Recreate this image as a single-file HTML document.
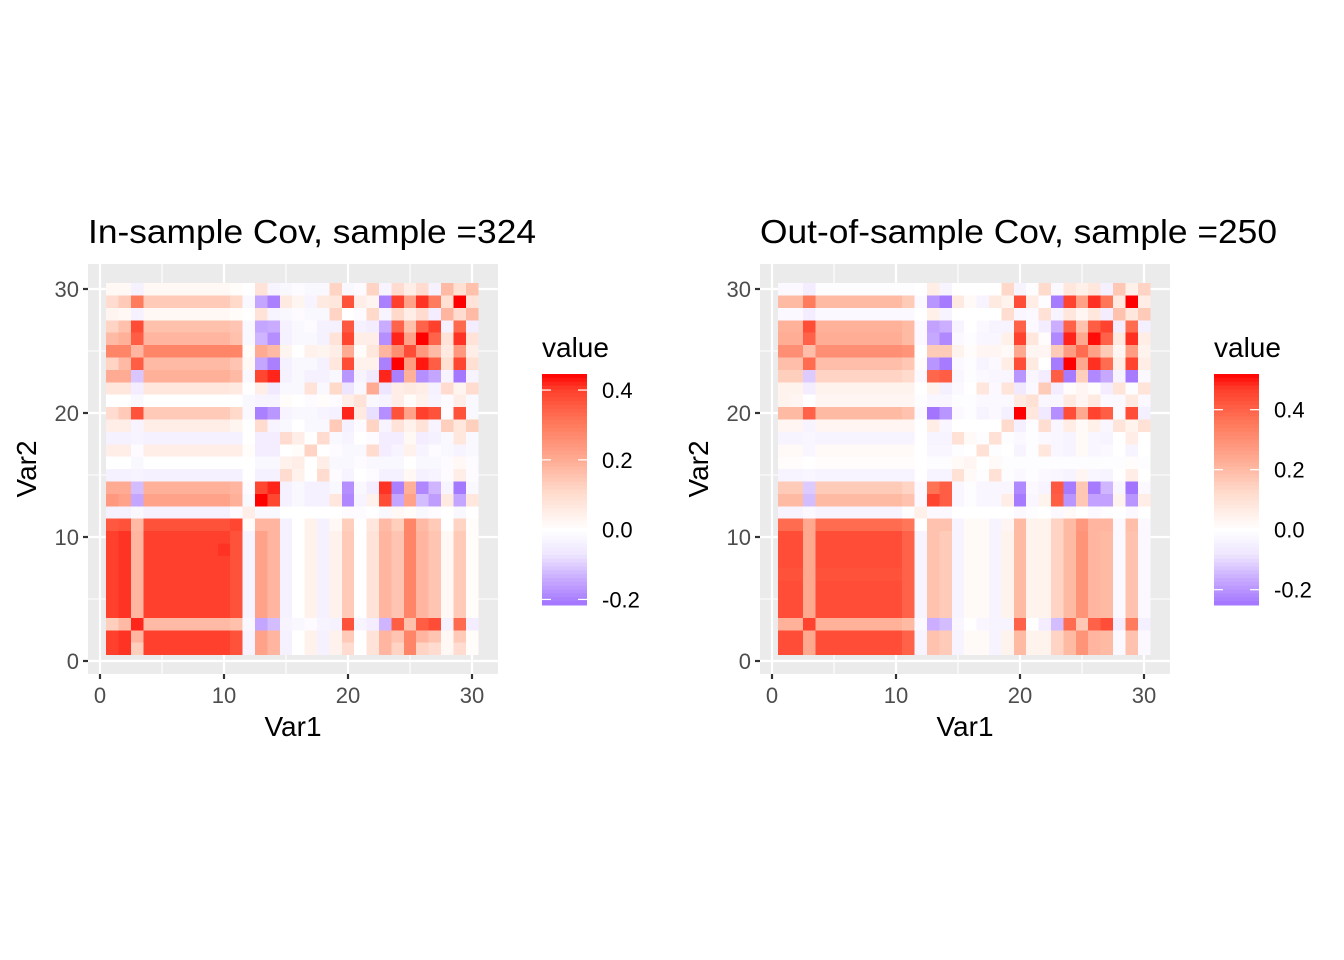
<!DOCTYPE html>
<html><head><meta charset="utf-8"><style>
html,body{margin:0;padding:0;background:#fff;}
svg{display:block;font-family:"Liberation Sans",Arial,sans-serif;}
</style></head><body>
<svg id="chart" width="1344" height="960" viewBox="0 0 1344 960" xmlns="http://www.w3.org/2000/svg"></svg>
<script>
// ---- data ----
const xTicks = [0, 10, 20, 30];
const yTicks = [0, 10, 20, 30];
const leftTitle = "In-sample Cov, sample =324";
const rightTitle = "Out-of-sample Cov, sample =250";
const leftLegendTicks = [-0.2, 0.0, 0.2, 0.4];
const rightLegendTicks = [-0.2, 0.0, 0.2, 0.4];
const leftRange = [-0.216, 0.446];
const rightRange = [-0.251, 0.519];
// rows 1..30 (bottom to top), columns 1..30
const leftMatrix = [
[.4,.41,.13,.4,.4,.4,.4,.4,.4,.4,.37,-.03,.22,.18,-.04,0,.04,-.04,.04,.1,0,.08,.18,.12,.28,.12,.1,.02,.1,.01],
[.4,.41,.18,.4,.4,.4,.4,.4,.4,.4,.37,-.03,.22,.18,-.04,0,.04,-.04,.04,.14,0,.08,.18,.15,.28,.18,.15,.02,.14,.01],
[.13,.17,.42,.17,.17,.17,.17,.17,.17,.17,.16,-.02,-.15,-.12,-.03,-.02,-.01,-.03,-.04,.37,-.03,-.05,-.13,.35,.16,.35,.38,-.04,.33,-.05],
[.4,.41,.18,.4,.4,.4,.4,.4,.4,.4,.37,-.03,.22,.18,-.04,0,.04,-.04,.04,.14,0,.08,.18,.15,.28,.18,.15,.02,.14,.01],
[.4,.41,.18,.4,.4,.4,.4,.4,.4,.4,.37,-.03,.22,.18,-.04,0,.04,-.04,.04,.14,0,.08,.18,.15,.28,.18,.15,.02,.14,.01],
[.4,.41,.18,.4,.4,.4,.4,.4,.4,.4,.37,-.03,.22,.18,-.04,0,.04,-.04,.04,.14,0,.08,.18,.15,.28,.18,.15,.02,.14,.01],
[.4,.41,.18,.4,.4,.4,.4,.4,.4,.4,.37,-.03,.22,.18,-.04,0,.04,-.04,.04,.14,0,.08,.18,.15,.28,.18,.15,.02,.14,.01],
[.4,.41,.18,.4,.4,.4,.4,.4,.4,.4,.37,-.03,.22,.18,-.04,0,.04,-.04,.04,.14,0,.08,.18,.15,.28,.18,.15,.02,.14,.01],
[.4,.41,.18,.4,.4,.4,.4,.4,.4,.41,.37,-.03,.22,.18,-.04,0,.04,-.04,.04,.14,0,.08,.18,.15,.28,.18,.15,.02,.14,.01],
[.4,.41,.18,.4,.4,.4,.4,.4,.4,.4,.37,-.03,.22,.18,-.04,0,.04,-.04,.04,.14,0,.08,.18,.15,.28,.18,.15,.02,.14,.01],
[.36,.37,.17,.37,.37,.37,.37,.37,.37,.37,.39,.01,.18,.18,-.04,0,.04,-.04,.02,.13,0,.07,.17,.13,.28,.17,.14,0,.12,.01],
[-.04,-.04,-.02,-.04,-.04,-.04,-.04,-.04,-.04,-.04,-.01,.05,-.02,-.02,0,0,0,0,0,-.01,-.01,0,-.02,.02,.01,-.02,-.01,0,-.02,0],
[.24,.22,-.15,.22,.22,.22,.22,.22,.22,.22,.19,-.02,.446,.39,-.04,-.02,-.04,-.04,.07,-.19,-.03,.04,.38,-.15,.22,-.12,-.16,.06,-.15,.07],
[.2,.2,-.12,.19,.19,.19,.19,.19,.19,.19,.18,-.01,.39,.42,-.04,-.02,-.04,-.04,-.02,-.18,-.02,-.05,.41,-.2,.19,-.19,-.13,-.03,-.21,-.02],
[-.04,-.04,-.03,-.04,-.04,-.04,-.04,-.04,-.04,-.04,-.04,0,-.04,-.04,.1,.04,0,.1,-.01,-.03,0,-.01,-.04,-.04,.02,-.04,-.03,-.01,.05,-.01],
[0,0,-.02,0,0,0,0,0,0,0,0,0,-.02,-.02,.04,.05,0,.05,-.02,-.02,-.01,-.02,-.02,-.02,0,-.02,-.02,-.01,.02,-.01],
[.05,.05,-.01,.05,.05,.05,.05,.05,.05,.05,.05,.01,-.05,-.05,0,.01,.12,0,-.01,-.02,-.02,.1,-.05,-.03,.04,-.03,-.01,-.02,-.03,-.02],
[-.04,-.04,-.03,-.04,-.04,-.04,-.04,-.04,-.04,-.04,-.04,0,-.05,-.05,.1,.05,0,.1,-.02,-.03,0,-.01,-.05,-.05,.02,-.05,-.04,-.02,.07,-.02],
[.05,.05,-.03,.05,.05,.05,.05,.05,.05,.05,.03,0,.1,-.03,-.02,0,-.02,-.02,.14,-.04,-.01,.12,-.03,.08,.04,.08,-.03,.13,.07,.13],
[.1,.14,.37,.14,.14,.14,.14,.14,.14,.14,.11,-.02,-.2,-.17,-.03,-.02,-.02,-.03,-.04,.42,.06,-.08,-.18,.37,.22,.4,.37,-.01,.37,-.02],
[0,0,-.02,0,0,0,0,0,0,0,0,-.02,-.03,-.03,.01,0,-.01,.01,-.01,.05,.08,-.02,-.03,.05,.01,.04,-.03,-.01,.05,-.02],
[.07,.07,-.05,.07,.07,.07,.07,.07,.07,.07,.06,0,.05,-.06,-.02,-.02,.08,-.02,.11,-.07,-.02,.2,-.07,.05,.06,.05,-.04,.1,.03,.1],
[.2,.2,-.11,.19,.19,.19,.19,.19,.19,.19,.17,-.02,.39,.42,-.04,-.02,-.04,-.04,-.02,-.17,-.03,-.06,.42,-.2,.19,-.18,-.15,-.03,-.21,-.03],
[.12,.17,.35,.17,.17,.17,.17,.17,.17,.17,.15,.02,-.15,-.2,-.04,-.02,-.02,-.04,.07,.38,.04,.04,-.2,.446,.23,.43,.35,.09,.39,.09],
[.28,.28,.18,.28,.28,.28,.28,.28,.28,.28,.28,.01,.2,.17,.03,0,.04,.03,.05,.2,.01,.07,.18,.26,.38,.24,.17,.06,.24,.05],
[.17,.19,.35,.18,.18,.18,.18,.18,.18,.18,.16,-.02,-.13,-.18,-.04,-.02,-.02,-.04,.08,.39,.05,.05,-.18,.42,.22,.446,.34,.08,.41,.08],
[.12,.16,.38,.16,.16,.16,.16,.16,.16,.16,.15,-.02,-.15,-.14,-.04,-.02,-.01,-.04,-.04,.36,-.04,-.05,-.14,.34,.16,.34,.4,-.04,.33,-.05],
[.03,.02,-.04,.02,.02,.02,.02,.02,.02,.02,.01,0,.08,-.03,-.02,-.01,-.02,-.02,.12,0,-.01,.11,-.03,.11,.05,.1,-.05,.18,.1,.17],
[.1,.14,.3,.14,.14,.14,.14,.14,.14,.14,.11,-.02,-.15,-.2,.06,.03,-.03,.06,.07,.37,.05,.03,-.2,.4,.22,.41,.3,.09,.446,.08],
[.02,.02,-.04,.02,.02,.02,.02,.02,.02,.02,.01,0,.08,-.03,-.02,-.01,-.02,-.02,.12,-.02,-.01,.12,-.03,.1,.05,.1,-.04,.17,.09,.16]
];
const rightMatrix = [
[.44,.44,.24,.44,.44,.44,.44,.44,.44,.44,.4,-.04,.18,.16,-.04,.02,.02,-.04,.04,.2,.04,.04,.14,.2,.29,.21,.2,-.02,.18,-.02],
[.44,.44,.24,.44,.44,.44,.44,.44,.44,.44,.4,-.04,.18,.16,-.04,.02,.02,-.04,.04,.2,.04,.04,.14,.2,.29,.21,.2,-.02,.18,-.02],
[.22,.22,.46,.22,.22,.22,.22,.22,.22,.22,.2,-.02,-.16,-.14,-.03,0,-.03,-.04,-.04,.4,0,-.06,-.14,.38,.17,.4,.44,-.06,.35,-.05],
[.44,.44,.24,.44,.44,.44,.44,.44,.44,.44,.4,-.04,.18,.16,-.04,.02,.02,-.04,.04,.2,.04,.04,.14,.2,.29,.21,.2,-.02,.18,-.02],
[.44,.44,.24,.44,.44,.44,.44,.44,.44,.44,.4,-.04,.18,.16,-.04,.02,.02,-.04,.04,.2,.04,.04,.14,.2,.29,.21,.2,-.02,.18,-.02],
[.44,.44,.24,.44,.44,.44,.44,.44,.44,.44,.4,-.04,.18,.16,-.04,.02,.02,-.04,.04,.2,.04,.04,.14,.2,.29,.21,.2,-.02,.18,-.02],
[.43,.43,.24,.43,.43,.43,.43,.43,.43,.43,.4,-.04,.18,.16,-.04,.02,.02,-.04,.04,.2,.04,.04,.14,.2,.29,.21,.2,-.02,.18,-.02],
[.44,.44,.24,.44,.44,.44,.44,.44,.44,.44,.4,-.04,.18,.16,-.04,.02,.02,-.04,.04,.2,.04,.04,.14,.2,.29,.21,.2,-.02,.18,-.02],
[.44,.44,.24,.44,.44,.44,.44,.44,.44,.44,.4,-.04,.18,.16,-.04,.02,.02,-.04,.04,.2,.04,.04,.14,.2,.29,.21,.2,-.02,.18,-.02],
[.44,.44,.24,.44,.44,.44,.44,.44,.44,.44,.4,-.04,.18,.16,-.04,.02,.02,-.04,.04,.2,.04,.04,.14,.2,.29,.21,.2,-.02,.18,-.02],
[.38,.38,.24,.38,.38,.38,.38,.38,.38,.38,.36,0,.18,.18,-.04,.02,.02,-.04,.03,.2,.04,.04,.14,.2,.28,.21,.21,-.02,.19,-.02],
[-.04,-.04,-.02,-.04,-.04,-.04,-.04,-.04,-.04,-.04,-.01,.05,-.02,-.02,0,0,0,0,0,-.02,-.01,0,-.02,.02,0,-.02,-.01,0,-.02,0],
[.2,.2,-.14,.2,.2,.2,.2,.2,.2,.2,.18,-.02,.46,.41,-.03,-.01,-.03,-.03,.06,-.24,-.03,.04,.41,-.2,.17,-.18,-.18,.04,-.2,.06],
[.16,.16,-.12,.16,.16,.16,.16,.16,.16,.16,.14,-.02,.37,.41,-.03,-.01,-.03,-.03,-.03,-.22,-.02,-.04,.42,-.24,.17,-.24,-.15,-.03,-.25,-.02],
[-.04,-.04,-.03,-.04,-.04,-.04,-.04,-.04,-.04,-.04,-.04,0,-.04,-.04,.1,.02,-.01,.1,-.01,-.02,-.01,-.02,-.03,-.04,.03,-.03,-.04,0,.06,0],
[.01,.01,0,.01,.01,.01,.01,.01,.01,.01,.01,0,-.01,-.01,.02,.03,0,.02,-.01,-.01,-.01,-.01,-.01,-.01,-.01,-.01,-.01,-.01,.01,-.01],
[.02,.02,-.03,.02,.02,.02,.02,.02,.02,.02,.02,0,-.03,-.03,-.01,0,.1,-.01,0,-.04,-.01,.08,-.03,-.04,.02,-.03,-.02,0,-.04,0],
[-.04,-.04,-.03,-.04,-.04,-.04,-.04,-.04,-.04,-.04,-.04,0,-.04,-.04,.1,.02,-.01,.1,-.01,-.02,-.01,-.02,-.03,-.04,.02,-.03,-.04,0,.06,0],
[.03,.03,-.04,.03,.03,.03,.03,.03,.03,.03,.03,0,.06,-.03,0,0,0,0,.12,-.05,-.01,.11,-.03,.06,.02,.05,-.03,.09,.04,.1],
[.2,.2,.4,.2,.2,.2,.2,.2,.2,.2,.18,-.02,-.25,-.2,-.02,-.01,-.04,-.02,-.05,.519,.08,-.07,-.21,.44,.24,.46,.41,-.02,.44,-.05],
[.04,.03,0,.03,.03,.03,.03,.03,.03,.03,.03,-.01,-.03,-.03,-.01,-.01,-.02,-.02,-.02,.07,.1,-.03,-.03,.07,.03,.07,-.02,-.02,.07,-.02],
[.04,.04,-.06,.04,.04,.04,.04,.04,.04,.04,.04,0,.04,-.05,-.02,0,.08,-.02,.09,-.07,-.02,.16,-.06,.01,.03,.01,-.06,.09,-.01,.09],
[.15,.15,-.12,.14,.14,.14,.14,.14,.14,.14,.12,-.02,.39,.41,-.03,-.01,-.02,-.03,-.03,-.2,-.03,-.06,.41,-.24,.15,-.22,-.17,-.04,-.24,-.02],
[.19,.19,.38,.19,.19,.19,.19,.19,.19,.19,.17,.01,-.2,-.24,-.02,-.01,-.04,-.02,.06,.44,.07,0,-.24,.519,.24,.48,.38,.06,.46,.06],
[.3,.3,.19,.3,.3,.3,.3,.3,.3,.3,.29,0,.16,.16,.04,.01,.03,.03,.02,.24,.03,.03,.16,.27,.38,.26,.16,.03,.27,.04],
[.23,.23,.4,.23,.23,.23,.23,.23,.23,.23,.2,-.02,-.17,-.22,-.02,-.01,-.03,-.03,.05,.46,.08,.01,-.22,.49,.24,.51,.4,.07,.48,.06],
[.22,.22,.44,.22,.22,.22,.22,.22,.22,.22,.2,-.02,-.18,-.16,-.04,0,-.02,-.04,-.04,.4,-.02,-.06,-.16,.4,.18,.41,.46,-.06,.38,-.05],
[-.02,-.02,-.06,-.02,-.02,-.02,-.02,-.02,-.02,-.02,-.02,0,.05,-.04,0,0,0,0,.11,-.03,-.02,.1,-.04,.08,.03,.08,-.06,.18,.08,.16],
[.2,.2,.35,.2,.2,.2,.2,.2,.2,.2,.16,-.02,-.2,-.24,.07,.02,-.04,.07,.04,.44,.06,-.01,-.24,.46,.26,.48,.36,.07,.519,.06],
[-.02,-.02,-.06,-.01,-.01,-.01,-.01,-.01,-.01,-.01,-.01,0,.06,-.04,0,0,0,0,.13,-.04,-.01,.12,-.02,.08,.05,.08,-.05,.17,.05,.14]
];

// ---- rendering ----
const NS = "http://www.w3.org/2000/svg";
const svg = document.getElementById("chart");
function mk(tag, attrs, parent) {
  const e = document.createElementNS(NS, tag);
  for (const k in attrs) e.setAttribute(k, attrs[k]);
  (parent || svg).appendChild(e);
  return e;
}
function hex(c){return [parseInt(c.slice(1,3),16),parseInt(c.slice(3,5),16),parseInt(c.slice(5,7),16)];}
const posStops = [[0,"#ffffff"],[0.25,"#ffd8c9"],[0.45,"#ffab93"],[0.7,"#ff7557"],[0.9,"#ff3f2c"],[1,"#ff0000"]];
const negStops = [[0,"#ffffff"],[0.33,"#eee6ff"],[0.66,"#c8aaff"],[1,"#a274ff"]];
function interp(stops, t) {
  t = Math.max(0, Math.min(1, t));
  for (let i = 1; i < stops.length; i++) {
    if (t <= stops[i][0]) {
      const a = stops[i-1], b = stops[i];
      const f = (t - a[0]) / (b[0] - a[0]);
      const ca = hex(a[1]), cb = hex(b[1]);
      return "rgb(" + ca.map((v, k) => Math.round(v + (cb[k] - v) * f)).join(",") + ")";
    }
  }
  return stops[stops.length-1][1];
}
function colorFor(v, maxv) {
  const s = v / maxv;
  if (s >= 0) return interp(posStops, s);
  return interp(negStops, -s / 0.485);
}

function drawPanel(ox, title, matrix, range, legTicks, prefix) {
  const px0 = ox, py0 = 264, pw = 410, ph = 410;
  const sx = v => ox + 12 + v * 12.4;
  const sy = v => 661 - v * 12.4;
  const g = mk("g", {});
  
  

  const t = mk("text", {x: ox, y: 243, "font-size": 33, fill: "#000", textLength: title.length > 27 ? 517 : 448, lengthAdjust: "spacingAndGlyphs"}, g);
  t.textContent = title;
  
  

  const bg = mk("rect", {x: px0, y: py0, width: pw, height: ph, fill: "#ebebeb"}, g);
  
  
  // minor grid
  [5, 15, 25].forEach(v => {
    mk("line", {x1: sx(v), x2: sx(v), y1: py0, y2: py0 + ph, stroke: "#fff", "stroke-width": 1.1}, g);
    mk("line", {y1: sy(v), y2: sy(v), x1: px0, x2: px0 + pw, stroke: "#fff", "stroke-width": 1.1}, g);
  });
  xTicks.forEach(v => mk("line", {x1: sx(v), x2: sx(v), y1: py0, y2: py0 + ph, stroke: "#fff", "stroke-width": 2.2}, g));
  yTicks.forEach(v => mk("line", {y1: sy(v), y2: sy(v), x1: px0, x2: px0 + pw, stroke: "#fff", "stroke-width": 2.2}, g));

  const cells = mk("g", {"shape-rendering": "crispEdges"}, g);
  
  
  for (let r = 0; r < matrix.length; r++) {
    for (let c = 0; c < matrix[r].length; c++) {
      const x1 = sx(c + 0.5), x2 = sx(c + 1.5);
      const y1 = sy(r + 1.5), y2 = sy(r + 0.5);
      const cell = mk("rect", {x: x1, y: y1, width: x2 - x1 + 0.3, height: y2 - y1 + 0.3, fill: colorFor(matrix[r][c], range[1])}, cells);
      
      
    }
  }

  xTicks.forEach(v => {
    mk("line", {x1: sx(v), x2: sx(v), y1: py0 + ph, y2: py0 + ph + 5, stroke: "#333", "stroke-width": 2.2}, g);
    const tl = mk("text", {x: sx(v), y: 703, "font-size": 22, fill: "#4d4d4d", "text-anchor": "middle"}, g);
    tl.textContent = v;
    
    
  });
  yTicks.forEach(v => {
    mk("line", {x1: px0 - 5, x2: px0, y1: sy(v), y2: sy(v), stroke: "#333", "stroke-width": 2.2}, g);
    const tl = mk("text", {x: px0 - 9, y: sy(v) + 8, "font-size": 22, fill: "#4d4d4d", "text-anchor": "end"}, g);
    tl.textContent = v;
    
    
  });
  const xt = mk("text", {x: px0 + pw / 2, y: 736, "font-size": 28, fill: "#000", "text-anchor": "middle"}, g);
  xt.textContent = "Var1";
  
  
  const yt = mk("text", {x: 0, y: 0, "font-size": 28, fill: "#000", "text-anchor": "middle", transform: "translate(" + (ox - 52) + ",469) rotate(-90)"}, g);
  yt.textContent = "Var2";
  
  

  // legend
  const lx = ox + 454, top = 374, bot = 605;
  const ly = v => top + (range[1] - v) / (range[1] - range[0]) * (bot - top);
  const lg = mk("g", {}, g);
  
  
  const lt = mk("text", {x: lx, y: 357, "font-size": 28, fill: "#000"}, lg);
  lt.textContent = "value";
  
  
  const steps = 60;
  for (let i = 0; i < steps; i++) {
    const v0 = range[1] - (range[1] - range[0]) * i / steps;
    const v1 = range[1] - (range[1] - range[0]) * (i + 1) / steps;
    mk("rect", {x: lx, y: ly(v0), width: 45, height: ly(v1) - ly(v0) + 0.5, fill: colorFor((v0 + v1) / 2, range[1])}, lg);
  }
  legTicks.forEach(v => {
    const y = ly(v);
    mk("line", {x1: lx, x2: lx + 9, y1: y, y2: y, stroke: "#fff", "stroke-width": 1.2}, lg);
    mk("line", {x1: lx + 36, x2: lx + 45, y1: y, y2: y, stroke: "#fff", "stroke-width": 1.2}, lg);
    const tl = mk("text", {x: lx + 60, y: y + 8, "font-size": 22, fill: "#000"}, lg);
    tl.textContent = v.toFixed(1);
    
    
  });
}
drawPanel(88, leftTitle, leftMatrix, leftRange, leftLegendTicks, "in-sample");
drawPanel(760, rightTitle, rightMatrix, rightRange, rightLegendTicks, "out-of-sample");
</script>
</body></html>
